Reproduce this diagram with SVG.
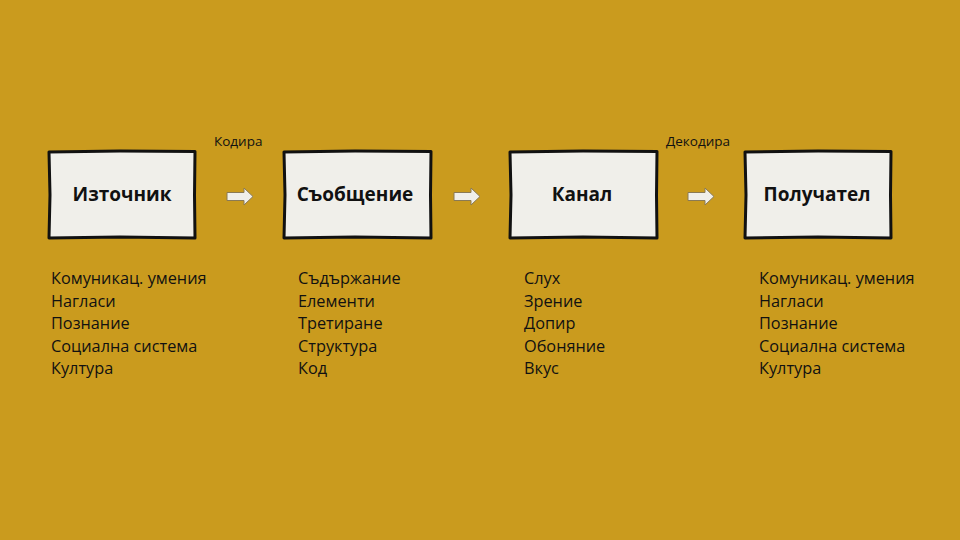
<svg xmlns="http://www.w3.org/2000/svg" width="960" height="540" viewBox="0 0 960 540">
<defs>
<style>
.bg{fill:#CA9B1E}
.box{fill:#F0EFEA;stroke:#111;stroke-width:3;stroke-linejoin:round}
.title{font-family:"Open Sans","Noto Sans","Liberation Sans",sans-serif;font-weight:bold;font-size:19px;fill:#111;text-anchor:middle}
.item{font-family:"Open Sans","Noto Sans","Liberation Sans",sans-serif;font-size:16.3px;fill:#111}
.lbl{font-family:"Open Sans","Noto Sans","Liberation Sans",sans-serif;font-size:13.5px;fill:#111}
.arr{fill:#F0EFEA;stroke:#8a7a55;stroke-width:1}
</style>
</defs>
<rect class="bg" x="0" y="0" width="960" height="540"/>
<g id="connectors">
<path class="arr" d="M227,192.5 H244 V188 L253,196.5 L244,205 V200.5 H227 Z"/>
<path class="arr" d="M454,192.5 H471 V188 L480,196.5 L471,205 V200.5 H454 Z"/>
<path class="arr" d="M688,192.5 H705 V188 L714,196.5 L705,205 V200.5 H688 Z"/>
<text class="lbl" x="214" y="146">Кодира</text>
<text class="lbl" x="666" y="146">Декодира</text>
</g>
<g id="n1">
<path class="box" d="M49,152 L120,151 L195,151.5 L194.5,195 L195,238 L120,237 L49,238 L50,195 Z"/>
<text class="title" x="122" y="201">Източник</text>
<text class="item" x="51" y="284">Комуникац. умения</text>
<text class="item" x="51" y="306.5">Нагласи</text>
<text class="item" x="51" y="329">Познание</text>
<text class="item" x="51" y="351.5">Социална система</text>
<text class="item" x="51" y="374">Култура</text>
</g>
<g id="n2">
<path class="box" d="M284,152 L355,151 L431,151.5 L430.5,195 L431,238 L355,237 L284,238 L285,195 Z"/>
<text class="title" x="355" y="201">Съобщение</text>
<text class="item" x="298" y="284">Съдържание</text>
<text class="item" x="298" y="306.5">Елементи</text>
<text class="item" x="298" y="329">Третиране</text>
<text class="item" x="298" y="351.5">Структура</text>
<text class="item" x="298" y="374">Код</text>
</g>
<g id="n3">
<path class="box" d="M510,152 L583,151 L657,151.5 L656.5,195 L657,238 L583,237 L510,238 L511,195 Z"/>
<text class="title" x="582" y="201">Канал</text>
<text class="item" x="524" y="284">Слух</text>
<text class="item" x="524" y="306.5">Зрение</text>
<text class="item" x="524" y="329">Допир</text>
<text class="item" x="524" y="351.5">Обоняние</text>
<text class="item" x="524" y="374">Вкус</text>
</g>
<g id="n4">
<path class="box" d="M745,152 L818,151 L891,151.5 L890.5,195 L891,238 L818,237 L745,238 L746,195 Z"/>
<text class="title" x="817" y="201">Получател</text>
<text class="item" x="759" y="284">Комуникац. умения</text>
<text class="item" x="759" y="306.5">Нагласи</text>
<text class="item" x="759" y="329">Познание</text>
<text class="item" x="759" y="351.5">Социална система</text>
<text class="item" x="759" y="374">Култура</text>
</g>
</svg>
